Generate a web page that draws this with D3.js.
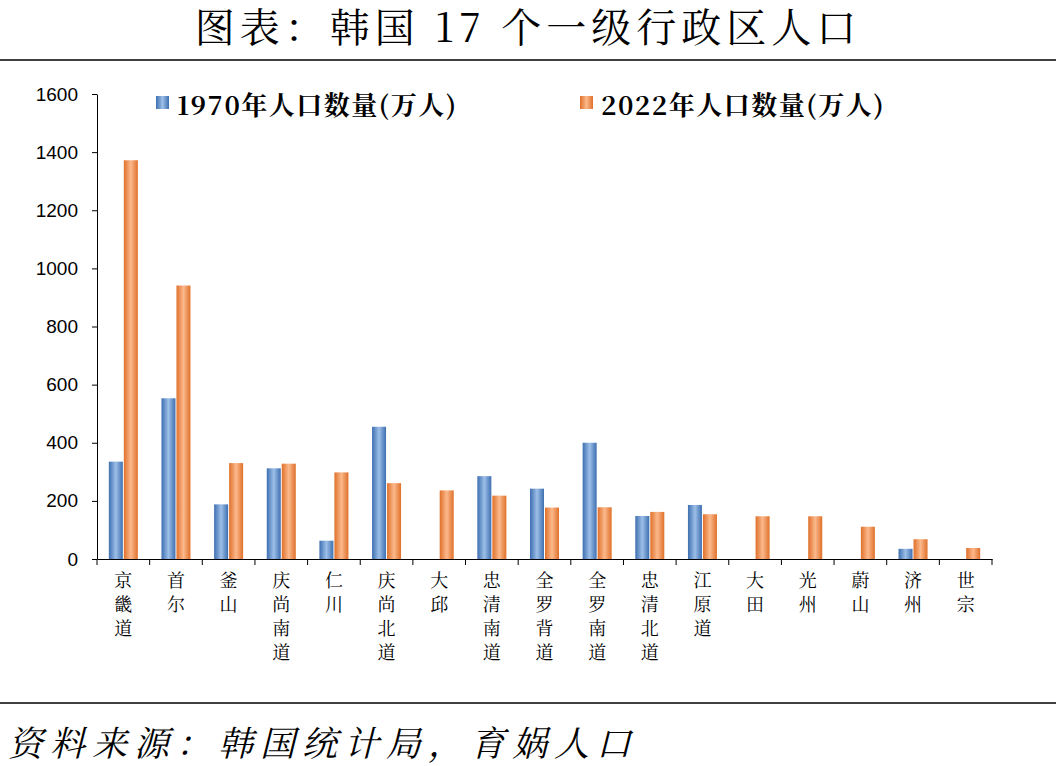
<!DOCTYPE html>
<html><head><meta charset="utf-8">
<script src="https://cdn.jsdelivr.net/npm/d3@7"></script>
<style>body{margin:0;background:#fff}</style>
</head><body>
<script>
var categories = ['京畿道','首尔','釜山','庆尚南道','仁川','庆尚北道','大邱','忠清南道','全罗背道','全罗南道','忠清北道','江原道','大田','光州','蔚山','济州','世宗'];
var pop1970 = [335,553,188,312,63,455,0,285,242,400,148,186,0,0,0,35,0];
var pop2022 = [1372,941,330,328,298,261,236,218,177,178,162,154,147,147,111,68,38];
var yTicks = [0,200,400,600,800,1000,1200,1400,1600];
var seriesNames = ['1970年人口数量(万人)','2022年人口数量(万人)'];

var W = 1056, H = 766;
var svg = d3.select('body').append('svg').attr('width', W).attr('height', H);
var serif = '"Noto Serif CJK SC","Noto Sans CJK SC",serif';

var defs = svg.append('defs');
function grad(id, dark, light) {
    var g = defs.append('linearGradient').attr('id', id);
    g.append('stop').attr('offset', '0%').attr('stop-color', dark);
    g.append('stop').attr('offset', '50%').attr('stop-color', light);
    g.append('stop').attr('offset', '100%').attr('stop-color', dark);
}
grad('gb', '#3d6fb0', '#9dbfe8');
grad('go', '#e0702a', '#fbb98c');

svg.append('text').attr('x', W / 2).attr('y', 42).attr('text-anchor', 'middle')
    .style('font-family', serif).style('font-size', '40px').style('letter-spacing', '5px')
    .text('图表：韩国 17 个一级行政区人口');
svg.append('line').attr('x1', 0).attr('x2', W).attr('y1', 60).attr('y2', 60).attr('stroke', '#000').attr('stroke-width', 1.5);
svg.append('line').attr('x1', 0).attr('x2', W).attr('y1', 703).attr('y2', 703).attr('stroke', '#000').attr('stroke-width', 1.5);

var x = d3.scaleBand().domain(categories).range([97, 992]);
var y = d3.scaleLinear().domain([0, 1600]).range([559, 94]);

var gy = svg.append('g').attr('transform', 'translate(97,0)')
    .call(d3.axisLeft(y).tickValues(yTicks).tickFormat(d3.format('d')).tickSize(5).tickSizeOuter(0));
gy.selectAll('text').style('font-family', 'Liberation Sans,Arial').style('font-size', '19px').attr('x', -19);
var gx = svg.append('g').attr('transform', 'translate(0,559)')
    .call(d3.axisBottom(x).tickSize(0).tickFormat(''));
gx.selectAll('.domain').attr('stroke', '#000');
gx.selectAll('.tickmark').data(categories.concat(['end'])).enter().append('line')
    .attr('x1', function(d, i) { return 97 + i * x.step(); })
    .attr('x2', function(d, i) { return 97 + i * x.step(); })
    .attr('y1', 0).attr('y2', 6).attr('stroke', '#000');

var bw = 14;
svg.selectAll('.b70').data(pop1970).enter().append('rect')
    .attr('x', function(d, i) { return x(categories[i]) + x.bandwidth() / 2 - bw - 0.5; })
    .attr('y', function(d) { return y(d); }).attr('width', bw)
    .attr('height', function(d) { return 559 - y(d); }).attr('fill', 'url(#gb)');
svg.selectAll('.b22').data(pop2022).enter().append('rect')
    .attr('x', function(d, i) { return x(categories[i]) + x.bandwidth() / 2 + 0.5; })
    .attr('y', function(d) { return y(d); }).attr('width', bw)
    .attr('height', function(d) { return 559 - y(d); }).attr('fill', 'url(#go)');

categories.forEach(function(c) {
    var t = svg.append('text').attr('text-anchor', 'middle')
        .style('font-family', serif).style('font-size', '18px');
    c.split('').forEach(function(ch, j) {
        t.append('tspan').attr('x', x(c) + x.bandwidth() / 2).attr('y', 587 + j * 24).text(ch);
    });
});

var lx = [156, 580], lf = ['url(#gb)', 'url(#go)'];
seriesNames.forEach(function(s, i) {
    svg.append('rect').attr('x', lx[i]).attr('y', 96).attr('width', 13).attr('height', 13).attr('fill', lf[i]);
    svg.append('text').attr('x', lx[i] + 21).attr('y', 115)
        .style('font-family', serif).style('font-weight', 'bold').style('font-size', '26px')
        .style('letter-spacing', '1.5px').text(s);
});

svg.append('text').attr('x', 8).attr('y', 756)
    .style('font-family', serif).style('font-style', 'italic').style('font-size', '35px')
    .style('letter-spacing', '7px')
    .text('资料来源：韩国统计局，育娲人口');
</script>
</body></html>
